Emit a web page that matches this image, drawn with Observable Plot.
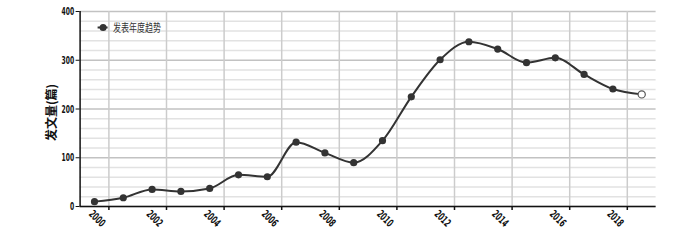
<!DOCTYPE html>
<html>
<head>
<meta charset="utf-8">
<script src="https://cdn.jsdelivr.net/npm/d3@7"></script>
<script src="https://cdn.jsdelivr.net/npm/@observablehq/plot@0.6"></script>
<style>
  html, body { margin: 0; padding: 0; background: #fff; }
  #chart { width: 700px; height: 240px; }
</style>
</head>
<body>
<div id="chart"></div>
<script>
// ---- data ----
const years  = [2000, 2001, 2002, 2003, 2004, 2005, 2006, 2007, 2008, 2009,
                2010, 2011, 2012, 2013, 2014, 2015, 2016, 2017, 2018, 2019];
const counts = [10, 18, 35, 31, 37, 65, 61, 132, 110, 90,
                135, 225, 301, 338, 323, 295, 305, 271, 241, 230];
const yMajorTicks = [0, 100, 200, 300, 400];
const yMinorTicks = [20, 40, 60, 80, 120, 140, 160, 180, 220, 240, 260, 280, 320, 340, 360, 380];
const xTickLabels = [2000, 2002, 2004, 2006, 2008, 2010, 2012, 2014, 2016, 2018];
const seriesName = "发表年度趋势";
const yTitle = "发文量(篇)";

const table = years.map((year, i) => ({year, value: counts[i]}));
const lastPoint = table.slice(-1);
const filledPoints = table.slice(0, -1);
const xDomain = [years[0] - 0.5, years[years.length - 1] + 0.5];
const boundaries = xTickLabels.map(y => y + 0.5);

const latin = "'Liberation Sans Narrow', 'DejaVu Sans Condensed', 'Liberation Sans', Arial, 'Noto Sans CJK SC', sans-serif";

const legendSwatch = (index, scales, values, dims) => {
  const g = d3.create("svg:g");
  const x0 = dims.marginLeft + 18, y0 = dims.marginTop + 16.5;
  g.append("line").attr("x1", x0).attr("x2", x0 + 10).attr("y1", y0).attr("y2", y0)
    .attr("stroke", "#333").attr("stroke-width", 2);
  g.append("circle").attr("cx", x0 + 5.5).attr("cy", y0).attr("r", 3.5).attr("fill", "#333");
  return g.node();
};

const chart = Plot.plot({
  width: 700,
  height: 240,
  marginLeft: 79.6,
  marginRight: 44.4,
  marginTop: 11,
  marginBottom: 34,
  style: {fontFamily: latin, background: "#fff", overflow: "visible"},
  x: {domain: xDomain, axis: null, label: null},
  y: {domain: [0, 400], axis: null, label: null},
  marks: [
    Plot.ruleY(yMinorTicks, {stroke: "#e2e2e2", strokeWidth: 1.5}),
    Plot.ruleY(yMajorTicks, {stroke: "#c2c2c2", strokeWidth: 1.5}),
    Plot.ruleX(boundaries, {stroke: "#cccccc", strokeWidth: 1.5}),
    Plot.ruleX([xDomain[0]], {stroke: "#111", strokeWidth: 1.5}),
    Plot.ruleY([0], {stroke: "#111", strokeWidth: 1.5}),
    Plot.axisX({ticks: boundaries, tickFormat: () => "", tickSize: 4, label: null,
                stroke: "#111", strokeWidth: 1.5}),
    Plot.axisY({ticks: yMajorTicks, tickSize: 4, tickPadding: 2, fontSize: 11, label: null,
                fontWeight: 600, fill: "#111", stroke: "#111", tickFormat: d => String(d)}),
    Plot.text(xTickLabels, {x: d => d, frameAnchor: "bottom", dy: 14.5, rotate: 45,
                textAnchor: "middle", fontSize: 11, fontWeight: 600, fill: "#111",
                text: d => String(d)}),
    Plot.text([yTitle], {frameAnchor: "left", textAnchor: "middle", dx: -28, dy: 3.5, rotate: -90,
                fontSize: 12, fontWeight: "bold", fill: "#111",
                fontFamily: "'Noto Sans CJK SC', sans-serif"}),
    Plot.line(table, {x: "year", y: "value", curve: "monotone-x", stroke: "#333", strokeWidth: 2}),
    Plot.dot(filledPoints, {x: "year", y: "value", r: 3.6, fill: "#333"}),
    Plot.dot(lastPoint, {x: "year", y: "value", r: 3.6, fill: "#fff", stroke: "#555", strokeWidth: 1.2}),
    legendSwatch,
    Plot.text([seriesName], {frameAnchor: "top-left", dx: 33, dy: 16.5, textAnchor: "start",
                lineAnchor: "middle", fontSize: 11, fill: "#333",
                fontFamily: "'Noto Sans CJK SC', sans-serif"})
  ]
});

// Condense tick labels and legend text horizontally, as in the reference
const yTickStrings = yMajorTicks.map(String);
const xTickStrings = xTickLabels.map(String);
chart.querySelectorAll("text").forEach(t => {
  const s = t.textContent;
  let len = null;
  if (yTickStrings.includes(s)) len = s.length * 4.2;
  else if (xTickStrings.includes(s)) len = 18;
  else if (s === seriesName) len = 48;
  if (len) {
    t.setAttribute("textLength", len);
    t.setAttribute("lengthAdjust", "spacingAndGlyphs");
  }
});
document.getElementById("chart").appendChild(chart);
</script>
</body>
</html>
